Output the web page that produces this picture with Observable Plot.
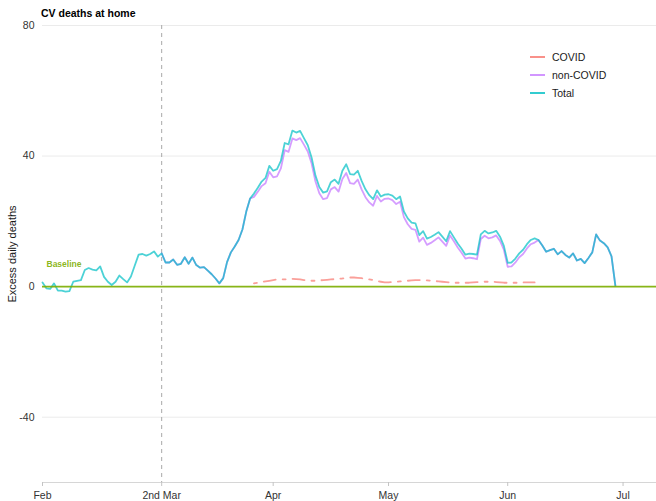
<!DOCTYPE html>
<html><head><meta charset="utf-8">
<script src="https://cdn.jsdelivr.net/npm/d3@7"></script>
<script src="https://cdn.jsdelivr.net/npm/@observablehq/plot@0.6"></script>
<style>
body{margin:0;background:#fff;font-family:"Liberation Sans",Arial,Helvetica,sans-serif;}
#wrap{position:relative;width:656px;height:501px;}
#title{height:20px;box-sizing:border-box;padding-left:41px;padding-top:7px;font-size:10.5px;font-weight:bold;line-height:12px;color:#000;}
#legend{position:absolute;left:530px;top:48px;font-size:10.5px;color:#1a1a1a;}
.row{display:flex;align-items:center;height:18px;}
.key{width:15px;height:2px;margin-right:7px;opacity:.8}
</style></head>
<body>
<div id="wrap">
<div id="title">CV deaths at home</div>
<div id="chart"></div>
<div id="legend"></div>
</div>
<script>
// ---- data ----
const startYear = 2020, startMonth = 1, startDay = 1; // 1 Feb 2020
const seriesNames = ["COVID", "non-COVID", "Total"];
const seriesColors = ["#F8766D", "#C77CFF", "#00BFC4"];
const baselineColor = "#7CAE00";

const totalStartDay = 0;
const totalValues = [
 1.3,-0.5,-0.7,1.0,-1.2,-1.2,-1.5,-1.4,1.5,1.8,
 2.0,5.1,5.7,5.2,5.0,6.2,3.0,1.5,0.5,1.5,
 3.4,2.3,1.3,3.1,6.5,9.8,10.0,9.5,10.0,10.8,
 9.2,10.2,7.4,7.4,8.3,6.7,7.0,9.0,7.0,8.9,
 6.6,5.8,6.0,4.9,3.8,2.5,1.0,2.6,7.5,10.5,
 12.3,14.3,17.5,23.0,27.0,28.5,30.3,32.2,33.3,37.0,
 35.5,36.0,38.5,44.0,43.6,47.8,47.2,47.7,45.5,43.3,
 39.5,34.0,30.5,28.8,29.2,32.0,32.8,31.5,35.5,37.5,
 34.5,34.3,35.5,32.4,29.8,28.0,26.8,29.5,27.6,28.2,
 28.3,27.9,26.8,27.6,23.0,20.9,19.6,19.4,15.8,17.0,
 14.7,15.2,15.9,16.7,15.3,13.9,17.0,15.1,13.2,11.6,
 9.8,10.1,10.0,9.8,16.0,17.1,16.3,16.6,17.1,15.3,
 12.5,7.3,7.4,8.6,10.2,11.3,13.0,14.3,14.8,14.3,
 12.6,10.7,11.2,11.6,9.9,10.9,9.7,8.9,10.2,8.0,
 8.5,7.2,8.8,10.5,16.0,14.1,13.3,12.0,9.3,0.3
];

const nonCovidStartDay = 31;
const nonCovidValues = [
 10.2,7.4,7.4,8.3,6.7,7.0,9.0,7.0,8.9,
 6.6,5.8,6.0,4.9,3.8,2.5,1.0,2.6,7.5,10.5,
 12.3,14.3,17.5,23.0,27.0,27.5,29.1,30.8,31.7,35.2,
 33.5,33.8,36.2,41.8,41.3,45.4,44.9,45.5,43.5,41.4,
 37.7,32.2,28.6,26.8,27.1,29.8,30.5,29.1,33.0,34.8,
 31.7,31.5,32.8,29.8,27.4,25.8,24.8,27.8,26.1,26.9,
 27.0,26.5,25.3,26.0,21.3,19.1,17.7,17.4,13.8,15.0,
 12.8,13.4,14.2,15.1,13.8,12.5,15.7,13.9,12.0,10.4,
 8.6,8.9,8.7,8.4,14.6,15.6,14.8,15.1,15.7,14.0,
 11.3,6.1,6.2,7.4,9.0,10.0,11.7,13.0,13.5,14.3,
 12.6,10.7,11.2,11.6,9.9,10.9,9.7,8.9,10.2,8.0,
 8.5,7.2,8.8,10.5,16.0,14.1,13.3,12.0,9.3,0.3
];

const covidStartDay = 55;
const covidValues = [
 1.0,1.2,1.4,1.6,1.8,
 2.0,2.2,2.3,2.2,2.3,2.4,2.3,2.2,2.0,1.9,
 1.8,1.8,1.9,2.0,2.1,2.2,2.3,2.4,2.5,2.7,
 2.8,2.8,2.7,2.6,2.4,2.2,2.0,1.7,1.5,1.3,
 1.3,1.4,1.5,1.6,1.7,1.8,1.9,2.0,2.0,2.0,
 1.9,1.8,1.7,1.6,1.5,1.4,1.3,1.2,1.2,1.2,
 1.2,1.2,1.3,1.4,1.4,1.5,1.5,1.5,1.4,1.3,
 1.2,1.2,1.2,1.2,1.2,1.3,1.3,1.3,1.3
];

const markerDay = 31;           // dashed reference line
const xTickDays = [0, 31, 60, 90, 121, 151];
const xTickLabels = ["Feb", "2nd Mar", "Apr", "May", "Jun", "Jul"];
const xEndDay = 159.7;
const yTicks = [-40, 0, 40, 80];
const yTickLabels = ["-40", "0", "40", "80"];
const yMin = -60, yMax = 80;
const yLabel = "Excess daily deaths";
const baselineText = "Baseline";

// ---- build ----
const DAY = 864e5;
const t0 = Date.UTC(startYear, startMonth, startDay);
const toDate = d => new Date(t0 + d * DAY);
function rows(name, first, vals){ return vals.map((v,i)=>({series:name, date:toDate(first+i), value:v})); }
const covid = rows("COVID", covidStartDay, covidValues);
const nonCovid = rows("non-COVID", nonCovidStartDay, nonCovidValues);
const total = rows("Total", totalStartDay, totalValues);
const tickDates = xTickDays.map(toDate);
const tickLabelMap = new Map(tickDates.map((d,i)=>[+d, xTickLabels[i]]));
const yLabelMap = new Map(yTicks.map((d,i)=>[d, yTickLabels[i]]));

const font = '"Liberation Sans", Arial, Helvetica, sans-serif';
const chart = Plot.plot({
  width: 656, height: 481,
  marginLeft: 42, marginRight: 0, marginTop: 5, marginBottom: 19,
  style: {fontFamily: font, fontSize: "10.5px", background: "#fff", color: "#333"},
  x: {type: "utc", domain: [toDate(0), toDate(xEndDay)]},
  y: {domain: [yMin, yMax]},
  marks: [
    Plot.gridY(yTicks, {stroke: "#ebebeb", strokeOpacity: 1, strokeWidth: 1}),
    Plot.ruleY([yMin], {stroke: "#d6d6d6", strokeWidth: 1}),
    Plot.ruleX([toDate(markerDay)], {stroke: "#a8a8a8", strokeWidth: 1, strokeDasharray: "4,4"}),
    Plot.lineY(covid, {x: "date", y: "value", stroke: seriesColors[0], strokeWidth: 1.8, strokeOpacity: 0.7, strokeDasharray: "3,7,12,7"}),
    Plot.lineY(nonCovid, {x: "date", y: "value", stroke: seriesColors[1], strokeWidth: 1.8, strokeOpacity: 0.75}),
    Plot.lineY(total, {x: "date", y: "value", stroke: seriesColors[2], strokeWidth: 1.8, strokeOpacity: 0.7}),
    Plot.ruleY([0], {stroke: baselineColor, strokeWidth: 1.8, strokeOpacity: 0.9}),
    Plot.text([baselineText], {x: () => toDate(0), y: () => 0, text: d => d, dx: 4, dy: -22, textAnchor: "start", fill: baselineColor, fontWeight: "bold", fontSize: 8.5, fillOpacity: 0.9}),
    Plot.axisX(tickDates, {tickSize: 4, stroke: "#c4c4c4", fill: "#333", tickFormat: d => tickLabelMap.get(+d), label: null}),
    Plot.axisY(yTicks, {tickSize: 0, tickPadding: 8, fill: "#333", tickFormat: d => yLabelMap.get(d), label: null}),
    Plot.axisY({label: yLabel, labelAnchor: "center", labelArrow: false, labelOffset: 34, ticks: [], fill: "#1a1a1a", fontSize: 11})
  ]
});
document.getElementById("chart").appendChild(chart);

// legend
const lg = document.getElementById("legend");
seriesNames.forEach((n,i)=>{
  const r = document.createElement("div"); r.className="row";
  const k = document.createElement("span"); k.className="key"; k.style.background = seriesColors[i];
  const t = document.createElement("span"); t.textContent = n;
  r.appendChild(k); r.appendChild(t); lg.appendChild(r);
});
</script>
</body></html>
